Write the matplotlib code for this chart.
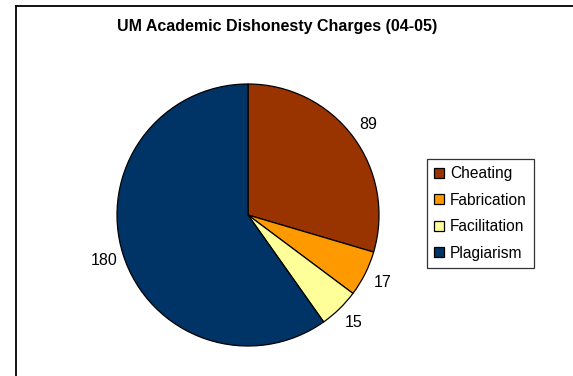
import matplotlib
matplotlib.use('Agg')
import matplotlib.pyplot as plt
from matplotlib.lines import Line2D

plt.rcParams['font.family'] = ['Liberation Sans', 'DejaVu Sans']

categories = ['Cheating', 'Fabrication', 'Facilitation', 'Plagiarism']
charges = [89, 17, 15, 180]
colors = ['#993300', '#FF9900', '#FFFF99', '#003366']

W, H = 573, 376
fig = plt.figure(figsize=(W / 100, H / 100), dpi=100)

# chart frame (only left and top edges visible)
fig.add_artist(Line2D([16 / W, 16 / W], [0, 1 - 6 / H], color='black', lw=1.3))
fig.add_artist(Line2D([16 / W, 1], [1 - 6 / H, 1 - 6 / H], color='black', lw=1.3))

# pie centre (248, 215), radius 131 px
cx, cy, r = 248, 215, 131
ax = fig.add_axes([(cx - r) / W, (H - cy - r) / H, 2 * r / W, 2 * r / H])
wedges, texts = ax.pie(charges, colors=colors, startangle=90, counterclock=False,
                       labels=[str(v) for v in charges], labeldistance=1.15,
                       wedgeprops=dict(edgecolor='black', linewidth=0.9),
                       textprops=dict(fontsize=11.5))
for t in texts:
    t.set_ha('center')
    t.set_va('center')
ax.set_xlim(-1, 1)
ax.set_ylim(-1, 1)

fig.text(277 / W, 1 - 27 / H, 'UM Academic Dishonesty Charges (04-05)',
         ha='center', va='center', fontsize=11.5, fontweight='bold')

leg = fig.legend(wedges, categories, loc='center', bbox_to_anchor=(480.5 / W, 1 - 213.5 / H),
                 fontsize=11.2, frameon=True, fancybox=False, edgecolor='black',
                 handlelength=0.65, handleheight=0.65, handletextpad=0.35,
                 labelspacing=0.74, borderpad=0.45, borderaxespad=0)
leg.get_frame().set_linewidth(0.9)

fig.savefig('out.png', dpi=100)
